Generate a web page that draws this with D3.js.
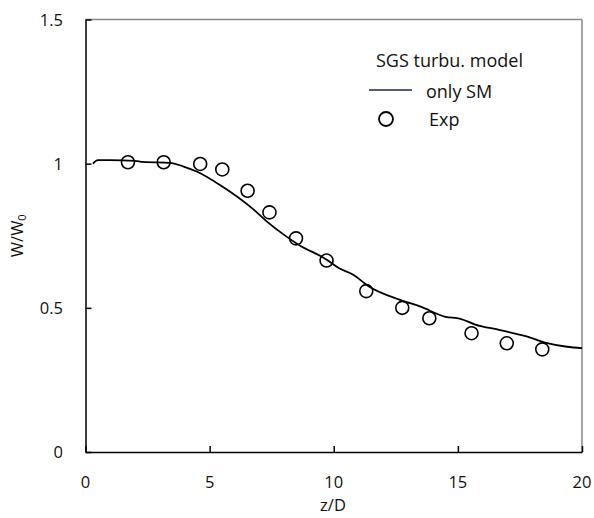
<!DOCTYPE html>
<html>
<head>
<meta charset="utf-8">
<script src="https://cdn.jsdelivr.net/npm/d3@7"></script>
<style>
  body { margin: 0; background: #fff; }
  text { font-family: "Open Sans", Lato, sans-serif; fill: #111; }
</style>
</head>
<body>
<div id="chart"></div>
<script>
var width = 594, height = 518;

// simulation curve (only SM)
var simZ = [0.3, 0.5, 1.0, 2.0, 2.3, 3.4, 3.95, 4.5, 5.4, 6.8, 7.3, 8.0, 8.6, 9.7, 10.2, 10.8, 11.4, 12.7, 13.5, 14.5, 15.1, 15.7, 16.7, 17.8, 18.6, 19.4, 20];
var simW = [1.0, 1.012, 1.012, 1.010, 1.006, 1.003, 0.990, 0.972, 0.927, 0.839, 0.800, 0.753, 0.718, 0.668, 0.638, 0.614, 0.575, 0.527, 0.504, 0.469, 0.462, 0.442, 0.423, 0.400, 0.378, 0.365, 0.360];

// experiment
var expZ = [1.71, 3.15, 4.62, 5.51, 6.53, 7.41, 8.48, 9.71, 11.31, 12.76, 13.85, 15.55, 16.97, 18.40];
var expW = [1.005, 1.005, 0.999, 0.980, 0.906, 0.831, 0.741, 0.664, 0.558, 0.500, 0.464, 0.412, 0.377, 0.356];

var xTicks = [0, 5, 10, 15, 20];
var yTicks = [0, 0.5, 1, 1.5];

var x = d3.scaleLinear().domain([0, 20]).range([85.5, 582]);
var y = d3.scaleLinear().domain([0, 1.5]).range([452, 19.5]);

var svg = d3.select("#chart").append("svg")
	.attr("width", width)
	.attr("height", height);

// frame (top / right in grey)
svg.append("line")
	.attr("x1", x(0)).attr("x2", x(20))
	.attr("y1", y(1.5)).attr("y2", y(1.5))
	.attr("stroke", "#868686").attr("stroke-width", 1.5);
svg.append("line")
	.attr("x1", x(20)).attr("x2", x(20))
	.attr("y1", y(1.5)).attr("y2", y(0))
	.attr("stroke", "#868686").attr("stroke-width", 1.5);

// axes, ticks pointing inside
var xAxis = svg.append("g")
	.attr("transform", "translate(0," + y(0) + ")")
	.call(d3.axisTop(x).tickValues(xTicks).tickSize(6).tickSizeOuter(0).tickFormat(""));
var yAxis = svg.append("g")
	.attr("transform", "translate(" + x(0) + ",0)")
	.call(d3.axisRight(y).tickValues(yTicks).tickSize(6).tickSizeOuter(0).tickFormat(""));
svg.selectAll(".domain, .tick line").attr("stroke", "#000").attr("stroke-width", 1.5);

svg.selectAll(".xlab")
	.data(xTicks)
	.enter().append("text")
	.attr("x", function(d) { return x(d); })
	.attr("y", 488)
	.attr("text-anchor", "middle")
	.attr("font-size", "16.5px")
	.text(function(d) { return d; });

svg.selectAll(".ylab")
	.data(yTicks)
	.enter().append("text")
	.attr("x", 63)
	.attr("y", function(d) { return y(d) + 6; })
	.attr("text-anchor", "end")
	.attr("font-size", "16.5px")
	.text(function(d) { return d; });

svg.append("text")
	.attr("x", 333)
	.attr("y", 511)
	.attr("text-anchor", "middle")
	.attr("font-size", "16.5px")
	.text("z/D");

var yl = svg.append("text")
	.attr("transform", "translate(23," + ((y(0) + y(1.5)) / 2) + ") rotate(-90)")
	.attr("text-anchor", "middle")
	.attr("font-size", "16.5px");
yl.append("tspan").text("W/W");
yl.append("tspan").attr("font-size", "11px").attr("dy", 3).text("0");

// simulation line
var line = d3.line()
	.x(function(d) { return x(d[0]); })
	.y(function(d) { return y(d[1]); })
	.curve(d3.curveMonotoneX);

svg.append("path")
	.datum(d3.zip(simZ, simW))
	.attr("d", line)
	.attr("fill", "none")
	.attr("stroke", "#000")
	.attr("stroke-width", 1.8);

// experimental points
svg.selectAll(".exp")
	.data(d3.zip(expZ, expW))
	.enter().append("circle")
	.attr("cx", function(d) { return x(d[0]); })
	.attr("cy", function(d) { return y(d[1]); })
	.attr("r", 6.5)
	.attr("fill", "none")
	.attr("stroke", "#000")
	.attr("stroke-width", 1.6);

// legend
var legend = svg.append("g");
legend.append("text")
	.attr("x", 376).attr("y", 67)
	.attr("font-size", "18px")
	.text("SGS turbu. model");
legend.append("line")
	.attr("x1", 369).attr("x2", 412)
	.attr("y1", 90).attr("y2", 90)
	.attr("stroke", "#1c2656").attr("stroke-width", 1.5);
legend.append("text")
	.attr("x", 426).attr("y", 98)
	.attr("font-size", "18px")
	.text("only SM");
legend.append("circle")
	.attr("cx", 386).attr("cy", 119)
	.attr("r", 7)
	.attr("fill", "none")
	.attr("stroke", "#000")
	.attr("stroke-width", 1.8);
legend.append("text")
	.attr("x", 429).attr("y", 126)
	.attr("font-size", "18px")
	.text("Exp");
</script>
</body>
</html>
